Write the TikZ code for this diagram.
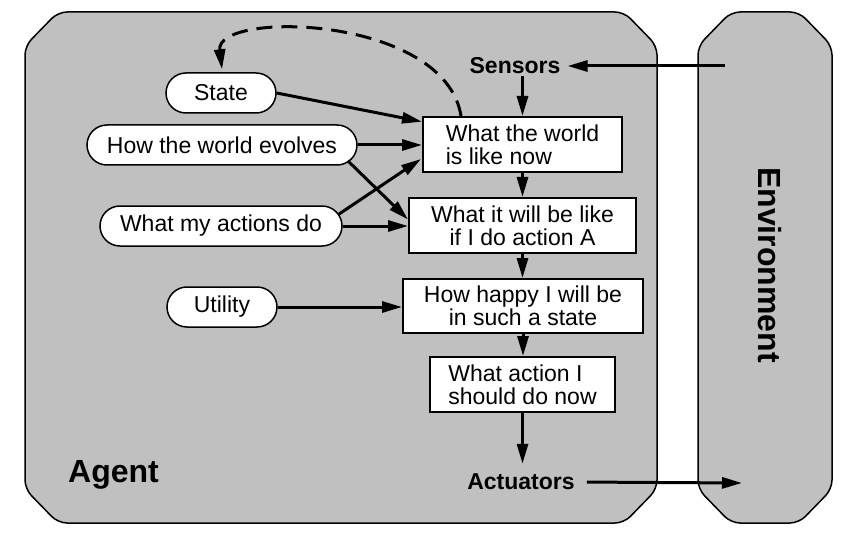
\documentclass[tikz,border=0pt]{standalone}
\usepackage{fontspec}
\setmainfont{Liberation Sans}
\usetikzlibrary{arrows.meta,calc}
\definecolor{agentgray}{RGB}{192,192,192}
\begin{document}
\begin{tikzpicture}[x=1pt,y=-1pt,
  arr/.style={line width=3pt,-{Triangle[length=20pt,width=11pt]}},
  pill/.style={draw,line width=1.5pt,fill=white,rounded corners=20pt,minimum height=40pt,inner sep=0pt,font=\fontsize{23}{23}\selectfont},
  stepbox/.style={draw,line width=2pt,fill=white,inner sep=0pt,font=\fontsize{23}{23}\selectfont},
  lbl/.style={font=\fontsize{23}{23}\selectfont\bfseries,inner sep=2pt},
  biglbl/.style={font=\fontsize{32}{32}\selectfont\bfseries,inner sep=0pt},
  shell/.style={draw,line width=1.5pt,fill=agentgray,rounded corners=9pt}]
\useasboundingbox (0,0) rectangle (856,556);
% agent and environment shells
\draw[shell] (25,46) -- (25,489) -- (58,523) -- (624,523) -- (657,489) -- (657,46) -- (624,12) -- (58,12) -- cycle;
\draw[shell] (698,46) -- (698,489) -- (731,523) -- (799,523) -- (832,489) -- (832,46) -- (799,12) -- (731,12) -- cycle;
% pills
\node[pill,minimum width=110pt] (state) at (221,93) {State};
\node[pill,minimum width=270pt] (evolves) at (222,145) {How the world evolves};
\node[pill,minimum width=242pt] (actions) at (221,226) {What my actions do};
\node[pill,minimum width=110pt] (utility) at (222,307) {Utility};
% boxes
\node[stepbox,minimum width=199pt,minimum height=55pt,align=left] (b1) at (522.5,144.5) {What the world\\is like now};
\node[stepbox,minimum width=227pt,minimum height=55pt,align=center] (b2) at (522.5,225.5) {What it will be like\\if I do action A};
\node[stepbox,minimum width=240pt,minimum height=54pt,align=center] (b3) at (523,306) {How happy I will be\\in such a state};
\node[stepbox,minimum width=185pt,minimum height=55pt,align=left] (b4) at (522.5,384.5) {What action I\\should do now};
% labels
\node[lbl] (sensors) at (515,66) {Sensors};
\node[lbl] (actuators) at (521,482) {Actuators};
\node[biglbl,anchor=base west] (agent) at (68,482) {Agent};
\node[biglbl,rotate=-90] (env) at (770,265) {Environment};
\coordinate (envin) at (725,66);
\coordinate (envout) at (742,483);
% connectors
\draw[arr,shorten >=5pt] (envin) -- (sensors.east);
\draw[arr] (sensors.south -| b1.north) -- (b1.north);
\draw[arr] (b1.south) -- (b1.south |- b2.north);
\draw[arr] (b2.south) -- (b2.south |- b3.north);
\draw[arr] (b3.south) -- (b3.south |- b4.north);
\draw[arr,shorten >=8pt] (b4.south) -- (b4.south |- actuators.north);
\draw[arr,shorten <=10pt] (actuators.east) -- (envout);
\draw[arr] (state.east) -- ($(b1.north west)!0.1!(b1.south west)$);
\draw[arr] (evolves.east) -- (evolves.east -| b1.west);
\draw[arr] ([shift={(-10,-5)}]evolves.south east) -- ([shift={(0,-6)}]b2.west);
\draw[arr] ([shift={(-4,9)}]actions.north east) -- ([shift={(-1,-14)}]b1.south west);
\draw[arr] (actions.east) -- (actions.east -| b2.west);
\draw[arr] (utility.east) -- (utility.east -| b3.west);
\draw[arr,dash pattern=on 16pt off 9pt] ([xshift=39pt]b1.north west) .. controls (445,15) and (215,10) .. ([shift={(1,-3)}]state.north);
\end{tikzpicture}
\end{document}
